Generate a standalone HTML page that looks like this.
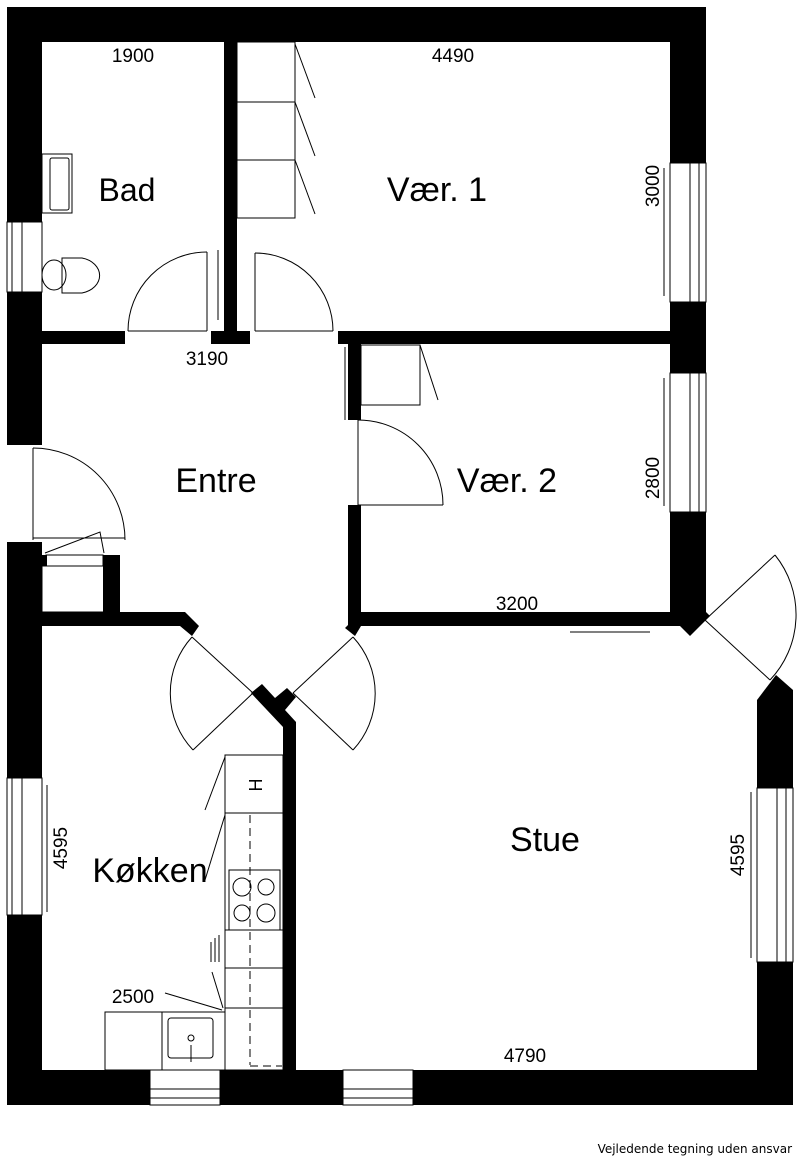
<!DOCTYPE html>
<html><head><meta charset="utf-8"><style>
html,body{margin:0;padding:0;background:#fff}
svg{display:block}
text{font-family:"Liberation Sans",Arial,sans-serif;fill:#000}
</style></head><body>
<svg width="800" height="1165" viewBox="0 0 800 1165" xmlns="http://www.w3.org/2000/svg">
<g fill="#000">
<rect x="7" y="7" width="699" height="35"/>
<rect x="670" y="7" width="36" height="156"/>
<rect x="670" y="302" width="36" height="71"/>
<polygon points="670,512 706,512 706,612 710,616 690,636 680,626 670,626"/>
<rect x="7" y="7" width="35" height="215"/>
<rect x="7" y="292" width="35" height="153"/>
<rect x="7" y="542" width="35" height="236"/>
<rect x="7" y="915" width="35" height="190"/>
<rect x="7" y="1070" width="143" height="35"/>
<rect x="220" y="1070" width="123" height="35"/>
<rect x="413" y="1070" width="380" height="35"/>
<polygon points="757,700 776,675 793,690 793,788 757,788"/>
<rect x="757" y="962" width="36" height="143"/>
<rect x="224" y="42" width="13" height="291"/>
<rect x="42" y="331" width="83" height="13"/>
<rect x="211" y="331" width="39" height="13"/>
<rect x="338" y="331" width="368" height="13"/>
<rect x="348" y="344" width="13" height="76"/>
<polygon points="348,505 361,505 361,612 670,612 670,626 361,626 355,636 345,628 348,625"/>
<polygon points="42,612 185,612 199,626 192,636 180,626 42,626"/>
<rect x="103" y="555" width="17" height="57"/>
<rect x="42" y="555" width="5" height="11"/>
<polygon points="251,693 262,684 275,698 287,688 296,697 285,710 296,722 296,1070 283,1070 283,727"/>
</g>
<g fill="none" stroke="#000" stroke-width="1">
<rect x="7" y="222" width="35" height="70"/><line x1="12" y1="222" x2="12" y2="292"/><line x1="22" y1="222" x2="22" y2="292"/>
<rect x="670" y="163" width="36" height="139"/><line x1="690" y1="163" x2="690" y2="302"/><line x1="699" y1="163" x2="699" y2="302"/>
<rect x="670" y="373" width="36" height="139"/><line x1="690" y1="373" x2="690" y2="512"/><line x1="699" y1="373" x2="699" y2="512"/>
<rect x="7" y="778" width="35" height="137"/><line x1="12" y1="778" x2="12" y2="915"/><line x1="22" y1="778" x2="22" y2="915"/>
<rect x="757" y="788" width="36" height="174"/><line x1="777" y1="788" x2="777" y2="962"/><line x1="786" y1="788" x2="786" y2="962"/>
<rect x="150" y="1070" width="70" height="35"/><line x1="150" y1="1089" x2="220" y2="1089"/><line x1="150" y1="1098" x2="220" y2="1098"/>
<rect x="343" y="1070" width="70" height="35"/><line x1="343" y1="1089" x2="413" y2="1089"/><line x1="343" y1="1098" x2="413" y2="1098"/>
<line x1="664" y1="168" x2="664" y2="296"/><line x1="664" y1="378" x2="664" y2="506"/>
<line x1="47" y1="785" x2="47" y2="912"/><line x1="751" y1="792" x2="751" y2="958"/>
<line x1="570" y1="632" x2="650" y2="632"/>
<line x1="128" y1="331" x2="207" y2="331"/><path d="M128,331 A79,79 0 0 1 207,252"/><line x1="207" y1="252" x2="207" y2="331"/>
<line x1="218" y1="250" x2="218" y2="320"/>
<line x1="255" y1="331" x2="333" y2="331"/><path d="M333,331 A78,78 0 0 0 255,253"/><line x1="255" y1="253" x2="255" y2="331"/>
<line x1="345" y1="347" x2="345" y2="420"/>
<line x1="358" y1="420" x2="358" y2="505"/><path d="M358,420 A85,85 0 0 1 443,505"/><line x1="358" y1="505" x2="443" y2="505"/>
<line x1="33" y1="448" x2="33" y2="540"/><path d="M33,448 A92,92 0 0 1 125,540"/><line x1="33" y1="538" x2="125" y2="538"/>
<polyline points="45,553 100,532 104,553"/><rect x="46" y="555" width="57" height="11"/><rect x="42" y="566" width="66" height="46"/>
<line x1="192" y1="637" x2="253" y2="693"/><path d="M192,637 A83,83 0 0 0 193,750"/><line x1="193" y1="750" x2="253" y2="693"/>
<line x1="353" y1="637" x2="293" y2="693"/><path d="M353,637 A83,83 0 0 1 353,750"/><line x1="353" y1="750" x2="293" y2="693"/>
<line x1="705" y1="620" x2="775" y2="555"/><path d="M775,555 A95,95 0 0 1 770,680"/><line x1="705" y1="620" x2="770" y2="680"/>
<rect x="237" y="42" width="58" height="176"/><line x1="237" y1="102" x2="295" y2="102"/><line x1="237" y1="160" x2="295" y2="160"/>
<line x1="295" y1="44" x2="315" y2="98"/><line x1="295" y1="102" x2="315" y2="156"/><line x1="295" y1="160" x2="315" y2="214"/>
<rect x="361" y="345" width="59" height="60"/><line x1="420" y1="345" x2="438" y2="400"/>
<rect x="42" y="154" width="30" height="59"/><rect x="50" y="158" width="19" height="52" rx="2"/>
<path d="M62,258 L82,258 A23,18 0 0 1 82,293 L62,293 Z"/><ellipse cx="54" cy="275" rx="12" ry="15"/><line x1="62" y1="258" x2="62" y2="293"/>
<rect x="225" y="755" width="58" height="315"/>
<line x1="225" y1="813" x2="283" y2="813"/><rect x="229" y="870" width="51" height="60"/>
<line x1="225" y1="930" x2="283" y2="930"/><line x1="225" y1="968" x2="283" y2="968"/><line x1="225" y1="1008" x2="283" y2="1008"/>
<line x1="250" y1="815" x2="250" y2="1065" stroke-dasharray="8,5"/><line x1="250" y1="1066" x2="282" y2="1066" stroke-dasharray="8,5"/>
<circle cx="242" cy="887" r="9"/><circle cx="266" cy="887" r="8"/><circle cx="242" cy="913" r="8"/><circle cx="266" cy="913" r="9"/>
<line x1="205" y1="810" x2="225" y2="757"/><line x1="205" y1="880" x2="225" y2="815"/><line x1="212" y1="972" x2="223" y2="1008"/>
<line x1="165" y1="993" x2="222" y2="1010"/>
<line x1="211" y1="942" x2="211" y2="962"/><line x1="215" y1="938" x2="215" y2="962"/><line x1="219" y1="935" x2="219" y2="962"/>
<rect x="105" y="1012" width="120" height="58"/><line x1="162" y1="1012" x2="162" y2="1070"/>
<rect x="168" y="1018" width="45" height="40" rx="3"/><circle cx="191" cy="1038" r="3"/><line x1="191" y1="1045" x2="191" y2="1062"/>
</g>
<text font-size="18" text-anchor="middle" transform="translate(262,785) rotate(-90)">H</text>
<text x="133" y="62" font-size="19" text-anchor="middle">1900</text>
<text x="453" y="62" font-size="19" text-anchor="middle">4490</text>
<text x="127" y="201" font-size="32" text-anchor="middle">Bad</text>
<text x="437" y="201" font-size="34" text-anchor="middle">Vær. 1</text>
<text font-size="19" text-anchor="middle" transform="translate(659,186) rotate(-90)">3000</text>
<text x="207" y="365" font-size="19" text-anchor="middle">3190</text>
<text font-size="19" text-anchor="middle" transform="translate(38,410) rotate(-90)">2200</text>
<text x="216" y="492" font-size="34" text-anchor="middle">Entre</text>
<text x="507" y="492" font-size="34" text-anchor="middle">Vær. 2</text>
<text font-size="19" text-anchor="middle" transform="translate(659,478) rotate(-90)">2800</text>
<text x="517" y="610" font-size="19" text-anchor="middle">3200</text>
<text x="150" y="882" font-size="34" text-anchor="middle">Køkken</text>
<text font-size="19" text-anchor="middle" transform="translate(67,848) rotate(-90)">4595</text>
<text x="133" y="1003" font-size="19" text-anchor="middle">2500</text>
<text x="545" y="851" font-size="34" text-anchor="middle">Stue</text>
<text font-size="19" text-anchor="middle" transform="translate(744,855) rotate(-90)">4595</text>
<text x="525" y="1062" font-size="19" text-anchor="middle">4790</text>
<text x="792" y="1153" font-size="12" text-anchor="end" style="font-family:'DejaVu Sans',sans-serif">Vejledende tegning uden ansvar</text>
</svg>
</body></html>
